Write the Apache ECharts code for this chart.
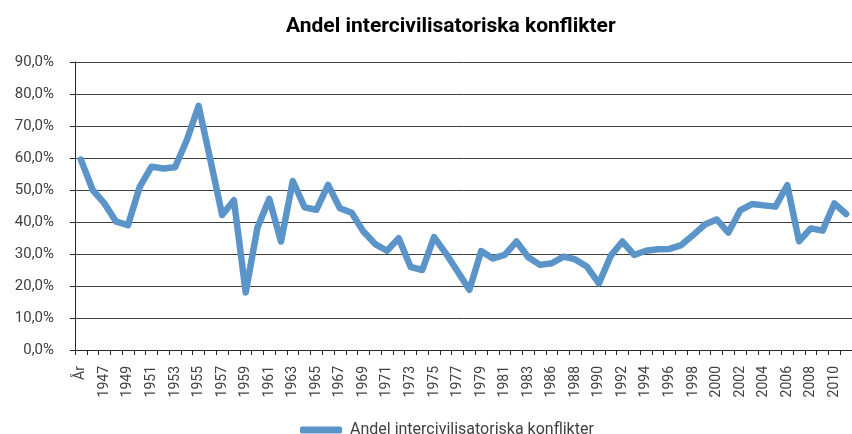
<!DOCTYPE html>
<html>
<head>
<meta charset="utf-8">
<script src="https://cdn.jsdelivr.net/npm/echarts@6/dist/echarts.min.js"></script>
<style>
html,body{margin:0;padding:0;background:#fff;}
#chart{width:852px;height:434px;}
</style>
</head>
<body>
<div id="chart"></div>
<script>
const titleText = 'Andel intercivilisatoriska konflikter';
const seriesName = 'Andel intercivilisatoriska konflikter';
const categories = ['År',
  '1946','1947','1948','1949','1950','1951','1952','1953','1954','1955',
  '1956','1957','1958','1959','1960','1961','1962','1963','1964','1965',
  '1966','1967','1968','1969','1970','1971','1972','1973','1974','1975',
  '1976','1977','1978','1979','1980','1981','1982','1983','1985','1986',
  '1987','1988','1989','1990','1991','1992','1993','1994','1995','1996',
  '1997','1998','1999','2000','2001','2002','2003','2004','2005','2006',
  '2007','2008','2009','2010','2011'];
const values = [59.5,
  50.0,45.8,40.1,39.0,51.0,57.3,56.7,57.1,65.6,76.3,
  59.4,42.2,46.8,18.0,38.3,47.2,33.9,52.8,44.6,43.8,
  51.6,44.3,42.9,37.0,33.1,31.0,34.9,26.0,25.0,35.3,
  30.2,24.5,18.8,30.9,28.6,29.7,33.9,29.0,26.6,27.1,
  29.2,28.3,26.0,20.8,29.4,33.9,29.7,31.0,31.5,31.6,
  32.8,35.9,39.2,40.8,36.7,43.6,45.6,45.2,44.8,51.5,
  34.0,38.0,37.3,45.8,42.5];
const yMin = 0, yMax = 90, yStep = 10;

const chart = echarts.init(document.getElementById('chart'), null, {renderer:'canvas'});
const font = 'Roboto, "Noto Sans", sans-serif';
chart.setOption({
  animation: false,
  backgroundColor: '#ffffff',
  textStyle: {fontFamily: font},
  title: {
    text: titleText,
    left: 281, top: 11,
    textStyle: {fontFamily: font, fontSize: 21, fontWeight: 'bold', color: '#000'}
  },
  legend: {
    data: [seriesName],
    left: 295, top: 417,
    icon: 'roundRect',
    itemWidth: 42, itemHeight: 7,
    itemGap: 10,
    textStyle: {fontFamily: font, fontSize: 16, color: '#404040', padding: [0, 0, 0, 3]}
  },
  grid: {left: 75, right: -5, top: 62, bottom: 84, containLabel: false},
  xAxis: {
    type: 'category',
    data: categories,
    boundaryGap: true,
    axisLine: {lineStyle: {color: '#262626', width: 1}},
    axisTick: {show: true, interval: 0, length: 5, lineStyle: {color: '#262626'}},
    axisLabel: {interval: 1, rotate: 90, margin: 16, fontSize: 14, color: '#404040', fontFamily: font},
    splitLine: {show: false}
  },
  yAxis: {
    type: 'value',
    min: yMin, max: yMax, interval: yStep,
    axisLine: {show: true, lineStyle: {color: '#262626', width: 1}},
    axisTick: {show: true, length: 5, lineStyle: {color: '#262626'}},
    axisLabel: {
      margin: 21, fontSize: 15, color: '#404040', fontFamily: font,
      formatter: v => v.toFixed(1).replace('.', ',') + '%'
    },
    splitLine: {show: true, lineStyle: {color: '#404040', width: 1}}
  },
  series: [{
    name: seriesName,
    type: 'line',
    data: values,
    symbol: 'none',
    lineStyle: {color: '#5b94c9', width: 6.5, cap: 'round', join: 'round'},
    itemStyle: {color: '#5b94c9'}
  }]
});
</script>
</body>
</html>
